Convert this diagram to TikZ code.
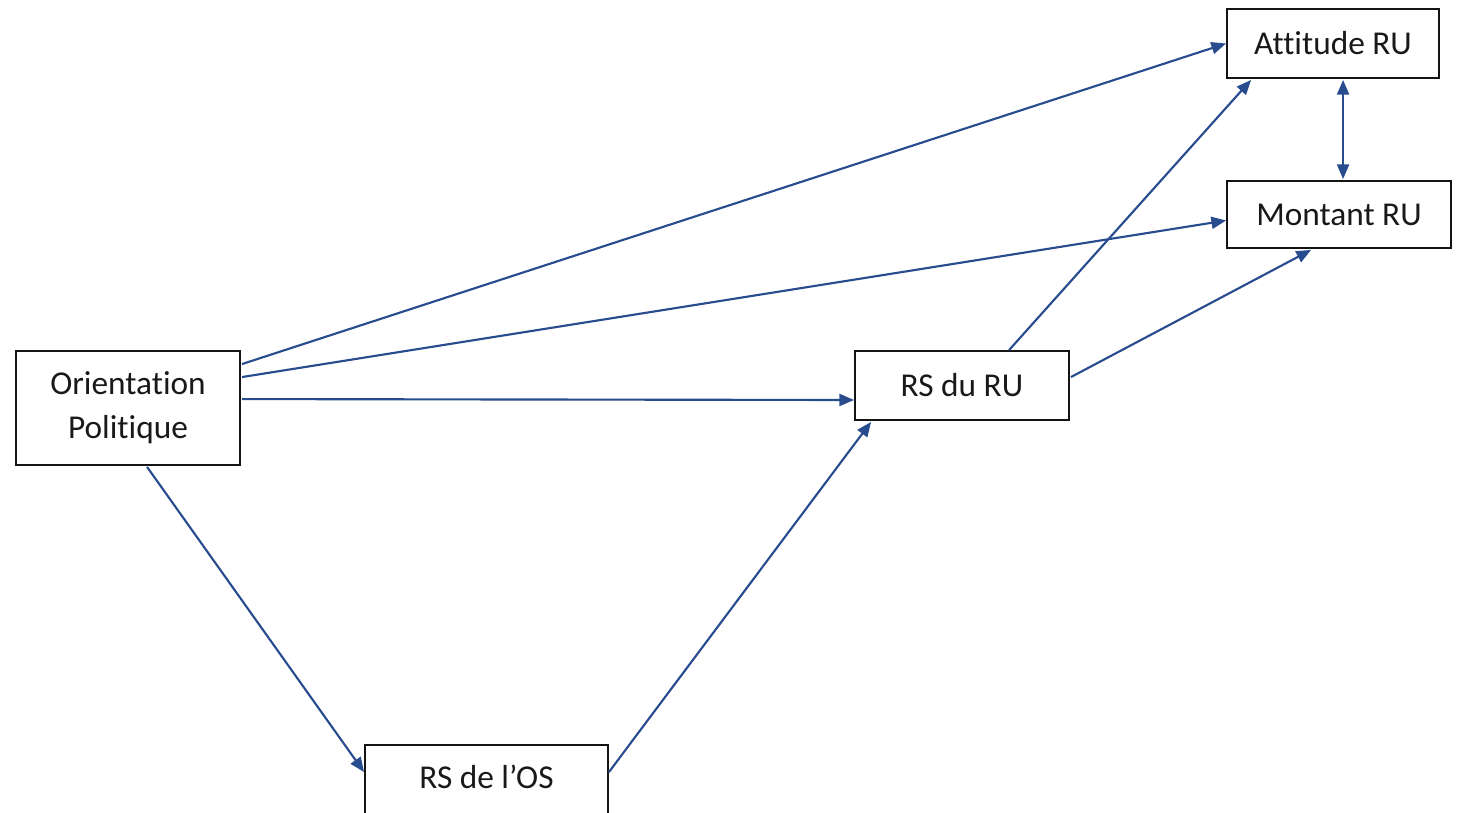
\documentclass[tikz,border=0pt]{standalone}
\usepackage{fontspec}
\setmainfont{Carlito}[Ligatures={NoCommon,NoRare,NoContextual}]
\usetikzlibrary{arrows.meta,calc}
\definecolor{arrowblue}{RGB}{40,76,142}
\definecolor{boxline}{RGB}{20,20,20}
\begin{document}
\begin{tikzpicture}[x=0.75pt,y=-0.75pt,
  box/.style={draw=boxline,line width=1.4pt,fill=white,inner sep=0pt,
    font=\fontsize{25}{33}\selectfont,text=black!90,align=center},
  link/.style={draw=arrowblue,line width=1.6pt,-{Triangle[length=11pt,width=9pt]}},
  dlink/.style={draw=arrowblue,line width=1.6pt,{Triangle[length=11pt,width=9pt]}-{Triangle[length=11pt,width=9pt]}}]
\useasboundingbox (0,0) rectangle (1463,813);
\clip (0,0) rectangle (1463,813);
\node[box,minimum width=168pt,minimum height=85.5pt] (op) at (128,408) {Orientation\\Politique};
\node[box,minimum width=160.5pt,minimum height=51.75pt] (rsru) at (962,385.5) {RS du RU};
\node[box,minimum width=159pt,minimum height=51.75pt] (att) at (1333,43.5) {Attitude RU};
\node[box,minimum width=168pt,minimum height=50.25pt] (mon) at (1339,214.5) {Montant RU};
\node[box,minimum width=182.25pt,minimum height=60pt] (os) at (486.5,785) {\raisebox{12pt}{RS de l’OS}};
\draw[link] ($(op.north east)+(1,14)$) -- (att.west);
\draw[link] ($(op.north east)+(1,27)$) -- ($(mon.west)+(0,6)$);
\draw[link] ($(op.north east)+(1,49)$) -- ($(rsru.west)+(0,14.5)$);
\draw[link] ($(op.south west)+(132,1)$) -- ($(os.north west)+(0,28)$);
\draw[link] ($(os.north east)+(0,28)$) -- ($(rsru.south west)+(17,1)$);
\draw[link] ($(rsru.north west)+(155,0)$) -- ($(att.south west)+(25,1)$);
\draw[link] ($(rsru.north east)+(1,27)$) -- ($(mon.south west)+(85,1)$);
\draw[dlink] ($(att.south west)+(117,1)$) -- ($(mon.north west)+(117,-1)$);
\end{tikzpicture}
\end{document}
